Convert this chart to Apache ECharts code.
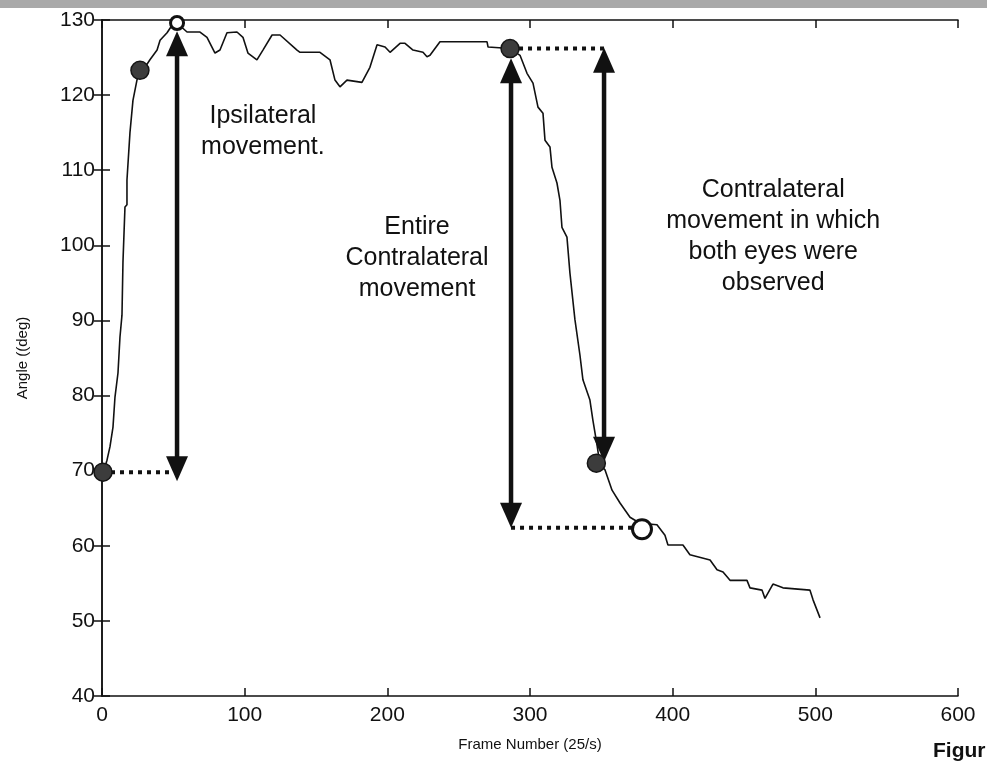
<!DOCTYPE html>
<html>
<head>
<meta charset="utf-8">
<script src="https://cdn.jsdelivr.net/npm/echarts@6/dist/echarts.min.js"></script>
<style>
html,body{margin:0;padding:0;background:#fff;}
#chart{width:987px;height:765px;}
</style>
</head>
<body>
<div id="chart"></div>
<script>
// ---- data ----
const frames = [0.7,3.5,5.6,7.7,9.1,11.2,12.6,14.0,14.7,16.1,16.1,17.5,17.5,19.6,21.7,24.5,26.6,30.1,33.6,38.6,40.7,45.6,49.1,52.6,59.6,68.7,73.6,79.2,82.7,87.6,94.6,98.8,102.3,108.6,112.8,119.2,124.8,136.7,138.8,152.8,159.8,163.3,166.8,171.7,182.2,187.8,192.8,198.4,201.9,208.9,212.4,218.0,225.0,227.8,229.9,236.9,269.9,270.6,286.0,293.0,297.9,302.1,305.6,309.1,310.5,314.0,315.4,318.9,321.0,322.4,325.9,328.0,331.5,335.0,337.1,342.0,344.1,347.0,349.0,352.6,357.5,363.1,370.1,377.1,389.0,394.6,396.7,407.2,412.1,426.2,431.1,435.3,440.2,452.1,454.2,462.6,464.7,470.3,477.3,496.2,498.4,503.3];
const angles = [69.7,71.4,73.2,75.8,79.8,83.0,87.8,90.7,97.8,98.0,105.1,105.4,108.7,115.0,119.3,122.0,123.3,123.7,124.7,126.0,127.3,128.3,129.3,129.6,128.4,128.4,127.7,125.6,126.0,128.3,128.4,127.7,125.6,124.7,126.0,128.0,128.0,126.0,125.7,125.7,124.7,122.0,121.1,122.0,121.7,123.7,126.7,126.4,125.7,126.9,126.9,126.0,125.7,125.1,125.3,127.1,127.1,126.4,126.2,125.3,122.9,121.6,118.4,117.6,114.0,113.1,110.4,108.3,106.0,102.4,101.1,96.3,90.1,85.4,82.1,79.4,76.7,73.4,70.8,70.1,67.4,65.7,63.8,63.0,62.8,61.4,60.1,60.1,58.8,58.1,56.8,56.5,55.4,55.4,54.4,54.1,53.0,54.9,54.4,54.1,52.8,50.4];

const filledPoints = [[0.7,69.8],[26.6,123.3],[286.0,126.2],[346.5,71.0]];
const openPoints = [[52.6,129.6],[378.5,62.2]];

// double arrows: [frame, top angle, bottom angle]
const arrows = [[52.6,128.5,68.6],[286.7,124.9,62.4],[351.9,126.3,71.2]];

// dotted guides: [from frame, to frame, angle]
const guides = [[0,52,69.8],[286.0,351.9,126.2],[286.7,378.5,62.4]];

const notes = ['Ipsilateral\nmovement.','Entire\nContralateral\nmovement','Contralateral\nmovement in which\nboth eyes were\nobserved'];
const notePos = [[112.8,115.1],[220.8,98.3],[470.5,101.2]];

const xTicks = [0,100,200,300,400,500,600];
const yTicks = [40,50,60,70,80,90,100,110,120,130];

// ---- chart ----
const FONT = '"Liberation Sans", Arial, sans-serif';
const chart = echarts.init(document.getElementById('chart'), null, {renderer:'canvas'});

const axisCommon = {
  axisLine:{show:true, lineStyle:{color:'#111', width:1.5}},
  axisTick:{show:true, inside:true, length:8, lineStyle:{color:'#111', width:1.5}},
  splitLine:{show:false}
};

const guideSeries = guides.map(g => ({
  type:'line', xAxisIndex:0, yAxisIndex:0,
  data:[[g[0],g[2]],[g[1],g[2]]],
  symbol:'none', silent:true, z:3,
  lineStyle:{color:'#111', width:4, type:[4,5]}
}));

chart.setOption({
  animation:false,
  backgroundColor:'#fff',
  grid:{left:102, top:20, right:29, bottom:69, show:false},
  xAxis:[
    Object.assign({
      type:'value', position:'bottom', min:xTicks[0], max:xTicks[xTicks.length-1], interval:100,
      name:'Frame Number (25/s)', nameLocation:'middle', nameGap:41,
      nameTextStyle:{fontFamily:FONT, fontSize:15, color:'#111'},
      axisLabel:{show:true, margin:9, fontFamily:FONT, fontSize:21, color:'#111'}
    }, axisCommon),
    Object.assign({
      type:'value', position:'top', min:xTicks[0], max:xTicks[xTicks.length-1], interval:100,
      axisLabel:{show:false}
    }, axisCommon)
  ],
  yAxis:[
    Object.assign({
      type:'value', position:'left', min:yTicks[0], max:yTicks[yTicks.length-1], interval:10,
      name:'Angle ((deg)', nameLocation:'middle', nameGap:72,
      nameTextStyle:{fontFamily:FONT, fontSize:15, color:'#111'},
      axisLabel:{show:true, margin:7, fontFamily:FONT, fontSize:21, color:'#111'}
    }, axisCommon),
    Object.assign({
      type:'value', position:'right', min:yTicks[0], max:yTicks[yTicks.length-1], interval:10,
      axisLabel:{show:false}
    }, axisCommon)
  ],
  series:[
    {
      type:'line', name:'angle', xAxisIndex:0, yAxisIndex:0,
      data:frames.map((f,i)=>[f,angles[i]]),
      symbol:'none', z:2,
      lineStyle:{color:'#111', width:1.6}
    },
    ...guideSeries,
    {
      type:'custom', xAxisIndex:0, yAxisIndex:0, z:4,
      data:arrows,
      encode:{x:0, y:[1,2]},
      renderItem:function(params, api){
        const x = api.value(0);
        const t = api.coord([x, api.value(1)]);
        const b = api.coord([x, api.value(2)]);
        const hw = 11, hl = 25;
        return {type:'group', children:[
          {type:'line', shape:{x1:t[0], y1:t[1]+hl-2, x2:b[0], y2:b[1]-hl+2}, style:{stroke:'#111', lineWidth:4.5}},
          {type:'polygon', shape:{points:[[t[0],t[1]],[t[0]-hw,t[1]+hl],[t[0]+hw,t[1]+hl]]}, style:{fill:'#111'}},
          {type:'polygon', shape:{points:[[b[0],b[1]],[b[0]-hw,b[1]-hl],[b[0]+hw,b[1]-hl]]}, style:{fill:'#111'}}
        ]};
      }
    },
    {
      type:'scatter', xAxisIndex:0, yAxisIndex:0, z:5,
      data:filledPoints, symbol:'circle', symbolSize:18,
      itemStyle:{color:'#3c3c3c', borderColor:'#151515', borderWidth:1.5, opacity:1}
    },
    {
      type:'scatter', xAxisIndex:0, yAxisIndex:0, z:5,
      data:openPoints, symbol:'circle',
      symbolSize:function(v, p){ return p.dataIndex === 0 ? 13 : 19; },
      itemStyle:{color:'#fff', borderColor:'#111', borderWidth:3, opacity:1}
    },
    {
      type:'scatter', xAxisIndex:0, yAxisIndex:0, z:6, silent:true,
      data:notePos.map((p,i)=>({value:p, name:notes[i]})),
      symbolSize:0,
      itemStyle:{opacity:1},
      label:{show:true, position:'inside', formatter:function(p){return p.name;},
        fontFamily:FONT, fontSize:25, lineHeight:31, color:'#111', align:'center', verticalAlign:'middle'}
    }
  ],
  graphic:[
    {type:'rect', left:0, top:0, shape:{width:987, height:8}, style:{fill:'#a9a9a9'}, silent:true},
    {type:'text', left:933, top:741, style:{text:'Figur', fontFamily:FONT, fontSize:21, fontWeight:'bold', fill:'#111'}}
  ]
});
</script>
</body>
</html>
